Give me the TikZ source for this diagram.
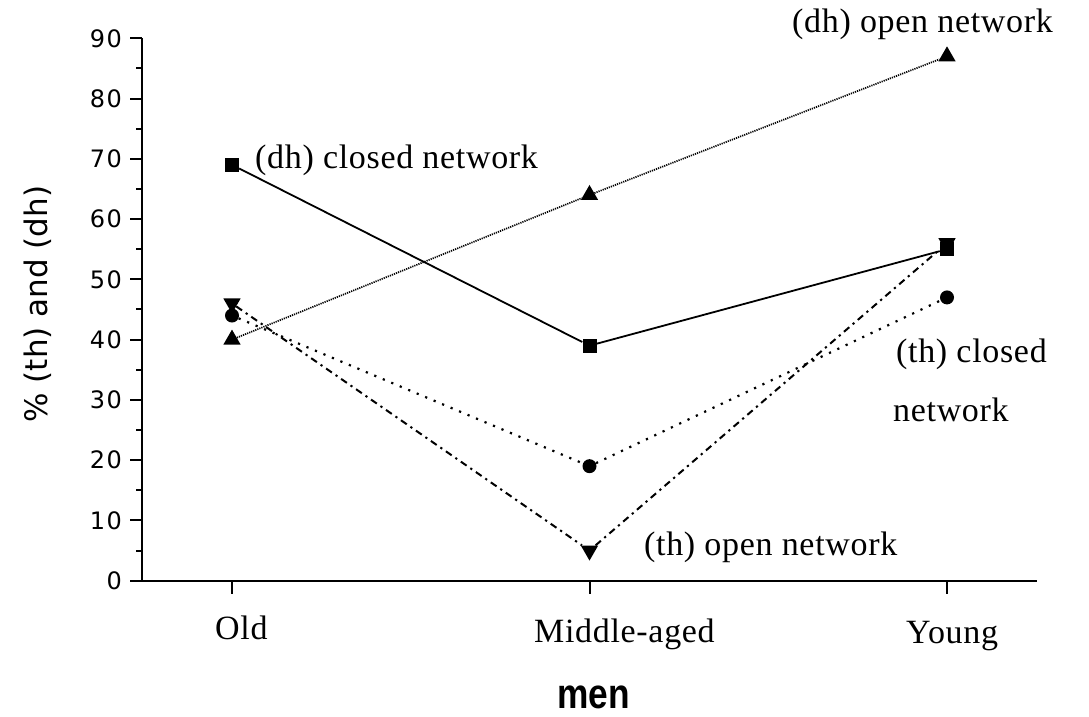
\documentclass[tikz,border=0pt]{standalone}
\usepackage{fontspec}
\usepackage{graphicx}
\usetikzlibrary{shapes.geometric}
\newfontfamily\lblfont[LetterSpace=2]{Liberation Serif}
\newfontfamily\tickfont[LetterSpace=6]{DejaVu Sans}
\newfontfamily\ylabfont{DejaVu Sans}
\newfontfamily\menfont{Liberation Sans}
\tikzset{
  lbl/.style={font=\lblfont\fontsize{34}{40}\selectfont, inner sep=0pt, anchor=base west},
  ticklbl/.style={font=\tickfont\fontsize{24}{28}\selectfont, inner sep=0pt, anchor=east},
  axisline/.style={line width=2pt},
  sq/.style={rectangle, fill=black, draw=none, minimum size=14pt, inner sep=0pt},
  tup/.style={regular polygon, regular polygon sides=3, fill=black, draw=none, minimum size=20pt, inner sep=0pt},
  tdn/.style={regular polygon, regular polygon sides=3, shape border rotate=180, fill=black, draw=none, minimum size=20pt, inner sep=0pt},
  dotm/.style={circle, fill=black, draw=none, minimum size=14pt, inner sep=0pt},
  dhclosed/.style={line width=1.8pt},
  dhopen/.style={line width=1.7pt, dash pattern=on 1.2pt off 1pt},
  thclosed/.style={line width=2.2pt, dash pattern=on 2.2pt off 7pt},
  thopen/.style={line width=2pt, dash pattern=on 7pt off 4.5pt on 2.2pt off 4.5pt},
}
\begin{document}
\begin{tikzpicture}[x=1pt,y=-1pt]
\useasboundingbox (0,0) rectangle (1089,717);
% axes
\draw[axisline] (130,580.7) -- (1037,580.7);
\draw[axisline] (141.7,580.7) -- (141.7,38.3);
\foreach \v in {0,10,...,90}{
  \draw[axisline] (130,{580.7-6.027*\v}) -- (141.7,{580.7-6.027*\v});
  \node[ticklbl] (t\v) at (122,{580.7-6.027*\v}) {\v};
}
\foreach \v in {5,15,...,85}{
  \draw[axisline] (136,{580.7-6.027*\v}) -- (141.7,{580.7-6.027*\v});
}
\foreach \x in {232,589.5,947}{
  \draw[axisline] (\x,580.7) -- (\x,594);
}
% markers
\node[sq] (c1) at (232,{580.7-6.027*69}) {};
\node[sq] (c2) at (589.5,{580.7-6.027*39}) {};
\node[sq] (c3) at (947,{580.7-6.027*55}) {};
\node[tup] (o1) at (232,{580.7-6.027*40}) {};
\node[tup] (o2) at (589.5,{580.7-6.027*64}) {};
\node[tup] (o3) at (947,{580.7-6.027*87}) {};
\node[dotm] (p1) at (232,{580.7-6.027*44}) {};
\node[dotm] (p2) at (589.5,{580.7-6.027*19}) {};
\node[dotm] (p3) at (947,{580.7-6.027*47}) {};
\node[tdn] (q1) at (232,{580.7-6.027*46}) {};
\node[tdn] (q2) at (589.5,{580.7-6.027*5}) {};
\node[tdn] (q3) at (947,{580.7-6.027*56}) {};
% lines
\draw[dhclosed] (c1) -- (c2) -- (c3);
\draw[dhopen] (o1) -- (o2) -- (o3);
\draw[thclosed] (p1) -- (p2) -- (p3);
\draw[thopen] (q1) -- (q2) -- (q3);
% labels
\node[lbl] (lc) at (255,168) {(dh) closed network};
\node[lbl] (lo) at (792,33) {(dh) open network};
\node[lbl] (lto) at (644,555) {(th) open network};
\node[lbl] (ltc) at (896,362) {(th) closed};
\node[lbl] (ltc2) at (893,421) {network};
\node[lbl] (xo) at (215,639) {Old};
\node[lbl] (xm) at (534,642) {Middle-aged};
\node[lbl] (xy) at (906,643) {Young};
\node[font=\menfont\bfseries\fontsize{42}{48}\selectfont, inner sep=0pt, anchor=base west] (men) at (557,708) {\scalebox{0.84}[1]{men}};
\node[font=\ylabfont\fontsize{31}{36}\selectfont, inner sep=0pt, rotate=90] (ylab) at (38,304) {\% (th) and (dh)};
\end{tikzpicture}
\end{document}
